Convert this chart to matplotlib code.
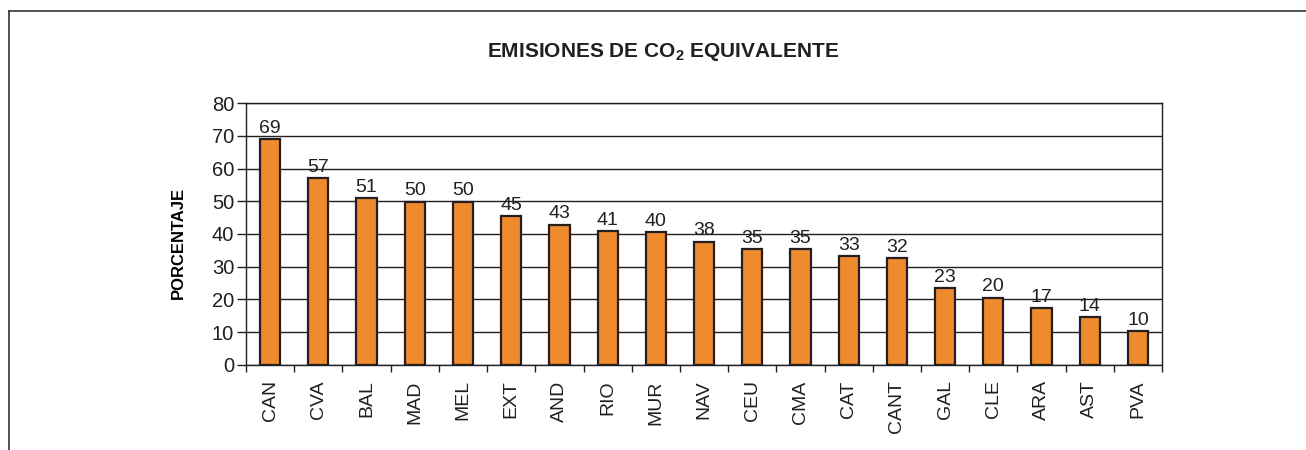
#!/usr/bin/env python3

import numpy as np
import matplotlib
matplotlib.use('Agg')
import matplotlib.pyplot as plt
from matplotlib.lines import Line2D

regions = ['CAN', 'CVA', 'BAL', 'MAD', 'MEL', 'EXT', 'AND', 'RIO', 'MUR', 'NAV',
           'CEU', 'CMA', 'CAT', 'CANT', 'GAL', 'CLE', 'ARA', 'AST', 'PVA']
values = [69.0, 57.1, 51.1, 49.9, 49.9, 45.6, 42.9, 40.9, 40.5, 37.7,
          35.3, 35.3, 33.4, 32.6, 23.6, 20.6, 17.3, 14.6, 10.3]
labels = [69, 57, 51, 50, 50, 45, 43, 41, 40, 38, 35, 35, 33, 32, 23, 20, 17, 14, 10]
yticks = [0, 10, 20, 30, 40, 50, 60, 70, 80]

INK = '#231f20'
ORANGE = '#ef8a2f'

plt.rcParams['font.family'] = ['Liberation Sans', 'DejaVu Sans']
plt.rcParams['mathtext.fontset'] = 'custom'
plt.rcParams['mathtext.rm'] = 'Liberation Sans'
plt.rcParams['mathtext.bf'] = 'Liberation Sans:bold'
plt.rcParams['text.color'] = INK
plt.rcParams['axes.edgecolor'] = INK
plt.rcParams['xtick.color'] = INK
plt.rcParams['ytick.color'] = INK

fig = plt.figure(figsize=(13.06, 4.5), dpi=100)
ax = fig.add_axes([0.1884, 0.1889, 0.7014, 0.5822])

x = np.arange(len(regions))
ax.bar(x, values, width=0.42, color=ORANGE, edgecolor=INK, linewidth=1.6, zorder=3)
for xi, v, lab in zip(x, values, labels):
    ax.annotate(str(lab), (xi, v), xytext=(0, 1.5), textcoords='offset points',
                ha='center', va='bottom', fontsize=14, zorder=4)

ax.set_xlim(-0.5, len(regions) - 0.5)
ax.set_ylim(0, 80)
ax.set_yticks(yticks)
ax.tick_params(axis='y', labelsize=14.5, length=6.5, width=1.0, direction='out', pad=2)
ax.yaxis.grid(True, color=INK, linewidth=1.0, zorder=0)

# category labels centred, ticks on category boundaries
ax.set_xticks(x)
ax.set_xticklabels(regions, rotation=90, fontsize=14)
ax.tick_params(axis='x', which='major', length=0, pad=11)
ax.set_xticks(np.arange(len(regions) + 1) - 0.5, minor=True)
ax.tick_params(axis='x', which='minor', length=5, width=1.0, direction='out')

for s in ax.spines.values():
    s.set_linewidth(1.0)

ax.set_ylabel('PORCENTAJE', fontsize=12, fontweight='bold')
ax.yaxis.set_label_coords(-0.0655, 0.466)

fig.text(0.508, 0.884, r'EMISIONES DE CO$_\mathbf{2}$ EQUIVALENTE',
         ha='center', va='center', fontsize=15, fontweight='bold')

# outer frame (left and top only)
fig.add_artist(Line2D([0.0069, 0.0069], [0.0, 0.9756], color='#333333', linewidth=1.2,
                      transform=fig.transFigure))
fig.add_artist(Line2D([0.0069, 1.0], [0.9756, 0.9756], color='#333333', linewidth=1.2,
                      transform=fig.transFigure))

fig.savefig('out.png', dpi=100)
